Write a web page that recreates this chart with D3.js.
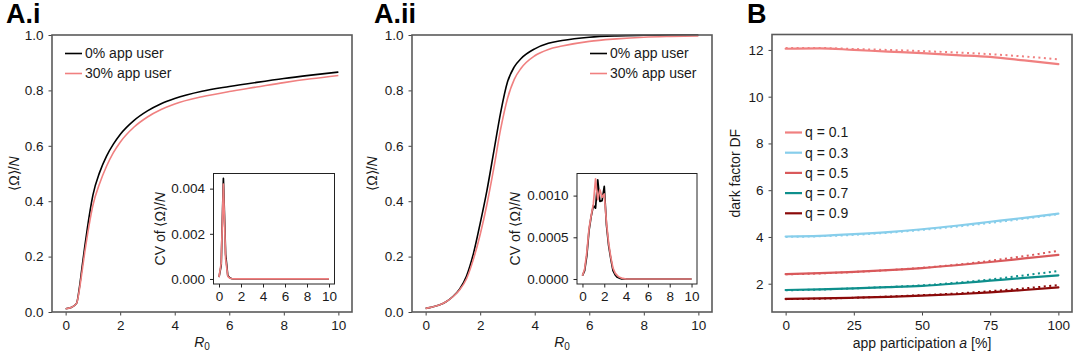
<!DOCTYPE html>
<html>
<head>
<meta charset="utf-8">
<script src="https://cdn.jsdelivr.net/npm/d3@7"></script>
<style>
  html, body { margin: 0; padding: 0; background: #fff; }
  svg { display: block; font-family: "Liberation Sans", Arial, Helvetica, sans-serif; }
  .tick text { fill: #1a1a1a; }
</style>
</head>
<body>
<svg id="fig" width="1078" height="360"></svg>
<script>
// ---------- Panel A.i : final outbreak size vs R0 ----------
const r0Ai = [0, 0.2, 0.4, 0.5, 0.6, 0.7, 0.8, 0.9, 1.0, 1.25, 1.5, 1.75, 2, 2.5, 3, 3.5, 4, 5, 6, 7, 8, 9, 10];
const sizeAi_0 = [0.012, 0.016, 0.031, 0.085, 0.16, 0.235, 0.305, 0.368, 0.422, 0.505, 0.563, 0.606, 0.641, 0.691, 0.726, 0.752, 0.771, 0.797, 0.814, 0.829, 0.843, 0.855, 0.866];
const sizeAi_30 = [0.012, 0.016, 0.031, 0.078, 0.145, 0.215, 0.278, 0.335, 0.385, 0.465, 0.526, 0.575, 0.613, 0.667, 0.704, 0.731, 0.751, 0.777, 0.796, 0.812, 0.828, 0.842, 0.854];

// inset A.i : coefficient of variation
const cvR_Ai = [0, 0.2, 0.4, 0.6, 0.8, 1.0, 1.2, 1.4, 2, 3, 4, 5, 6, 7, 8, 9, 10];
const cvAi_0 = [0.00008, 0.0006, 0.00445, 0.0011, 0.00015, 0.00004, 0.00001, 0, 0, 0, 0, 0, 0, 0, 0, 0, 0];
const cvAi_30 = [0.00008, 0.0007, 0.0042, 0.0009, 0.00012, 0.00003, 0.00001, 0, 0, 0, 0, 0, 0, 0, 0, 0, 0];

// ---------- Panel A.ii ----------
const r0Aii = [0, 0.25, 0.5, 0.75, 1.0, 1.25, 1.5, 1.75, 2.0, 2.25, 2.5, 2.75, 3.0, 3.25, 3.5, 4, 4.5, 5, 6, 7, 8, 9, 10];
const sizeAii_0 = [0.013, 0.018, 0.025, 0.037, 0.056, 0.083, 0.13, 0.21, 0.32, 0.44, 0.58, 0.72, 0.83, 0.885, 0.915, 0.95, 0.97, 0.98, 0.992, 0.997, 0.999, 1.0, 1.0];
const sizeAii_30 = [0.013, 0.018, 0.025, 0.037, 0.055, 0.08, 0.12, 0.19, 0.28, 0.39, 0.52, 0.66, 0.77, 0.84, 0.88, 0.925, 0.948, 0.96, 0.977, 0.986, 0.992, 0.995, 0.997];

const cvR_Aii = [0, 0.2, 0.4, 0.6, 0.8, 1.0, 1.2, 1.4, 1.6, 1.8, 2.0, 2.2, 2.4, 2.6, 2.8, 3.0, 3.2, 3.4, 3.6, 3.8, 4.0, 5, 6, 7, 8, 9, 10];
const cvAii_0 = [0.00004, 0.0001, 0.00028, 0.00058, 0.00075, 0.00088, 0.00085, 0.00119, 0.00093, 0.00094, 0.00111, 0.00065, 0.0004, 0.00024, 0.0001, 0.00005, 0.00002, 0.00001, 0, 0, 0, 0, 0, 0, 0, 0, 0];
const cvAii_30 = [0.00004, 0.00012, 0.00032, 0.0006, 0.00076, 0.0009, 0.0012, 0.00095, 0.00107, 0.00098, 0.00102, 0.00068, 0.00043, 0.00026, 0.00013, 0.00007, 0.00004, 0.00002, 0.00001, 0.000005, 0, 0, 0, 0, 0, 0, 0];

const seriesLabelsA = ["0% app user", "30% app user"];

// ---------- Panel B : dark factor vs app participation ----------
const participation = [0, 12.5, 25, 37.5, 50, 62.5, 75, 87.5, 100];
const qLabels = ["q = 0.1", "q = 0.3", "q = 0.5", "q = 0.7", "q = 0.9"];
const dfSolid = [
  [12.05, 12.07, 12.0, 11.93, 11.86, 11.78, 11.70, 11.55, 11.39],
  [4.02, 4.05, 4.12, 4.21, 4.33, 4.48, 4.65, 4.82, 5.0],
  [2.41, 2.45, 2.51, 2.58, 2.67, 2.79, 2.93, 3.08, 3.23],
  [1.73, 1.76, 1.80, 1.85, 1.91, 2.01, 2.13, 2.25, 2.36],
  [1.35, 1.37, 1.40, 1.44, 1.49, 1.55, 1.63, 1.73, 1.84]
];
const dfDotted = [
  [12.08, 12.08, 12.04, 12.0, 11.95, 11.89, 11.82, 11.72, 11.6],
  [4.0, 4.03, 4.09, 4.18, 4.30, 4.44, 4.6, 4.78, 4.97],
  [2.40, 2.44, 2.50, 2.58, 2.68, 2.81, 2.98, 3.18, 3.41],
  [1.72, 1.75, 1.80, 1.86, 1.93, 2.04, 2.18, 2.36, 2.54],
  [1.34, 1.36, 1.40, 1.45, 1.51, 1.58, 1.68, 1.80, 1.94]
];

const colorA = ["#000000", "#f08080"];
const colorsB = ["#f08080", "#87ceeb", "#d9595b", "#0e8f8c", "#8b0a0a"];

const svg = d3.select("#fig");
const TXT = "#1a1a1a";

function zip(xs, ys) { return xs.map((x, i) => [x, ys[i]]); }

function frame(g, b) {
  g.append("rect")
    .attr("x", b.l).attr("y", b.t)
    .attr("width", b.r - b.l).attr("height", b.b - b.t)
    .attr("fill", "#fff").attr("stroke", "none");
}
function border(g, b, stroke, width) {
  g.append("rect")
    .attr("x", b.l).attr("y", b.t)
    .attr("width", b.r - b.l).attr("height", b.b - b.t)
    .attr("fill", "none").attr("stroke", stroke).attr("stroke-width", width);
}

function styleAxis(sel, fs, tickColor) {
  sel.select(".domain").remove();
  sel.selectAll(".tick line").attr("stroke", tickColor).attr("stroke-width", 1);
  sel.selectAll(".tick text").attr("font-size", fs).attr("fill", TXT);
}

function drawAxes(g, b, x, y, opts) {
  const xa = g.append("g").attr("transform", `translate(0,${b.b})`)
    .call(d3.axisBottom(x).tickValues(opts.xticks).tickFormat(opts.xfmt)
      .tickSizeInner(3.5).tickSizeOuter(0).tickPadding(opts.xpad));
  styleAxis(xa, opts.fs, opts.tickColor);
  const ya = g.append("g").attr("transform", `translate(${b.l},0)`)
    .call(d3.axisLeft(y).tickValues(opts.yticks).tickFormat(opts.yfmt)
      .tickSizeInner(3.5).tickSizeOuter(0).tickPadding(opts.ypad));
  styleAxis(ya, opts.fs, opts.tickColor);
}

function yLabel(g, cx, cy, parts, fs) {
  const t = g.append("text")
    .attr("transform", `translate(${cx},${cy}) rotate(-90)`)
    .attr("text-anchor", "middle").attr("dy", "0.35em")
    .attr("font-size", fs).attr("fill", TXT);
  parts.forEach(p => {
    const s = t.append("tspan").text(p.t);
    if (p.i) s.attr("font-style", "italic");
  });
}

function r0Label(g, cx, cy) {
  const t = g.append("text").attr("x", cx).attr("y", cy)
    .attr("text-anchor", "middle").attr("font-size", 14).attr("fill", TXT);
  t.append("tspan").attr("font-style", "italic").text("R");
  t.append("tspan").attr("font-size", 10).attr("dy", 3).text("0");
}

function panelA(opts) {
  const g = svg.append("g");
  const b = opts.box;
  frame(g, b);
  const x = d3.scaleLinear().domain([-0.5, 10.5]).range([b.l, b.r]);
  const y = d3.scaleLinear().domain([0, 1]).range([b.b, b.t]);
  const line = d3.line().x(d => x(d[0])).y(d => y(d[1])).curve(d3.curveMonotoneX);

  [opts.s0, opts.s30].forEach((s, i) => {
    g.append("path").datum(zip(opts.r, s))
      .attr("fill", "none").attr("stroke", colorA[i]).attr("stroke-width", 1.6)
      .attr("d", line);
  });

  drawAxes(g, b, x, y, {
    xticks: [0, 2, 4, 6, 8, 10], xfmt: d3.format("d"),
    yticks: [0, 0.2, 0.4, 0.6, 0.8, 1.0], yfmt: d3.format(".1f"),
    fs: 13.5, xpad: 5, ypad: 5, tickColor: "#444"
  });
  border(g, b, "#5a5a5a", 1.6);

  // legend
  seriesLabelsA.forEach((lab, i) => {
    const ly = opts.legY + i * 20;
    g.append("line").attr("x1", opts.legX).attr("x2", opts.legX + 17)
      .attr("y1", ly).attr("y2", ly)
      .attr("stroke", colorA[i]).attr("stroke-width", 1.6);
    g.append("text").attr("x", opts.legX + 20).attr("y", ly).attr("dy", "0.35em")
      .attr("font-size", 14).attr("fill", TXT).text(lab);
  });

  // titles and labels
  g.append("text").attr("x", opts.titleX).attr("y", 23)
    .attr("font-size", 27).attr("font-weight", "bold").attr("fill", "#000").text(opts.title);
  yLabel(g, opts.yLabX, (b.t + b.b) / 2, [{ t: "⟨Ω⟩/" }, { t: "N", i: true }], 14);
  r0Label(g, (b.l + b.r) / 2, 347);

  // inset
  const ib = opts.inset;
  frame(g, ib);
  const ix = d3.scaleLinear().domain([-0.5, 10.5]).range([ib.l, ib.r]);
  const iy = d3.scaleLinear().domain(opts.insetY).range([ib.b, ib.t]);
  const iline = d3.line().x(d => ix(d[0])).y(d => iy(d[1]));
  [opts.cv0, opts.cv30].forEach((s, i) => {
    g.append("path").datum(zip(opts.cvR, s))
      .attr("fill", "none").attr("stroke", colorA[i]).attr("stroke-width", 1.7)
      .attr("stroke-linejoin", "round")
      .attr("d", iline);
  });
  drawAxes(g, ib, ix, iy, {
    xticks: [0, 2, 4, 6, 8, 10], xfmt: d3.format("d"),
    yticks: opts.insetTicks, yfmt: d3.format(opts.insetFmt),
    fs: 13.5, xpad: 4, ypad: 5, tickColor: "#222"
  });
  border(g, ib, "#222", 1);
  yLabel(g, opts.insetLabX, (ib.t + ib.b) / 2, [{ t: "CV of ⟨Ω⟩/" }, { t: "N", i: true }], 14);
}

panelA({
  box: { l: 52, r: 352, t: 35, b: 312 },
  r: r0Ai, s0: sizeAi_0, s30: sizeAi_30,
  legX: 65, legY: 53.5, title: "A.i", titleX: 6, yLabX: 14,
  inset: { l: 213.5, r: 334.5, t: 173.5, b: 284 },
  insetY: [-0.000223, 0.00467], insetTicks: [0, 0.002, 0.004], insetFmt: ".3f",
  cvR: cvR_Ai, cv0: cvAi_0, cv30: cvAi_30, insetLabX: 160
});

panelA({
  box: { l: 412, r: 712, t: 35, b: 312 },
  r: r0Aii, s0: sizeAii_0, s30: sizeAii_30,
  legX: 590, legY: 53.5, title: "A.ii", titleX: 374, yLabX: 372,
  inset: { l: 577, r: 697, t: 173.5, b: 284 },
  insetY: [-0.00006, 0.001265], insetTicks: [0, 0.0005, 0.001], insetFmt: ".4f",
  cvR: cvR_Aii, cv0: cvAii_0, cv30: cvAii_30, insetLabX: 515
});

// ---------- Panel B ----------
(function () {
  const g = svg.append("g");
  const b = { l: 772, r: 1072, t: 34.5, b: 312 };
  frame(g, b);
  const x = d3.scaleLinear().domain([-5, 105]).range([b.l, b.r]);
  const y = d3.scaleLinear().domain([0.79, 12.66]).range([b.b, b.t]);
  const line = d3.line().x(d => x(d[0])).y(d => y(d[1])).curve(d3.curveMonotoneX);

  dfDotted.forEach((s, i) => {
    g.append("path").datum(zip(participation, s))
      .attr("fill", "none").attr("stroke", colorsB[i]).attr("stroke-width", 2)
      .attr("stroke-dasharray", "2,3.5")
      .attr("d", line);
  });
  dfSolid.forEach((s, i) => {
    g.append("path").datum(zip(participation, s))
      .attr("fill", "none").attr("stroke", colorsB[i]).attr("stroke-width", 2.2)
      .attr("stroke-linecap", "round")
      .attr("d", line);
  });

  drawAxes(g, b, x, y, {
    xticks: [0, 25, 50, 75, 100], xfmt: d3.format("d"),
    yticks: [2, 4, 6, 8, 10, 12], yfmt: d3.format("d"),
    fs: 13.5, xpad: 5, ypad: 5, tickColor: "#444"
  });
  border(g, b, "#5a5a5a", 1.6);

  qLabels.forEach((lab, i) => {
    const ly = 132.5 + i * 20.2;
    g.append("line").attr("x1", 785).attr("x2", 802)
      .attr("y1", ly).attr("y2", ly)
      .attr("stroke", colorsB[i]).attr("stroke-width", 2.2);
    g.append("text").attr("x", 805).attr("y", ly).attr("dy", "0.35em")
      .attr("font-size", 14).attr("fill", TXT).text(lab);
  });

  g.append("text").attr("x", 747).attr("y", 23)
    .attr("font-size", 27).attr("font-weight", "bold").attr("fill", "#000").text("B");
  yLabel(g, 735, (b.t + b.b) / 2, [{ t: "dark factor DF" }], 14);

  const xl = g.append("text").attr("x", (b.l + b.r) / 2).attr("y", 348)
    .attr("text-anchor", "middle").attr("font-size", 14).attr("fill", TXT);
  xl.append("tspan").text("app participation ");
  xl.append("tspan").attr("font-style", "italic").text("a");
  xl.append("tspan").text(" [%]");
})();
</script>
</body>
</html>
